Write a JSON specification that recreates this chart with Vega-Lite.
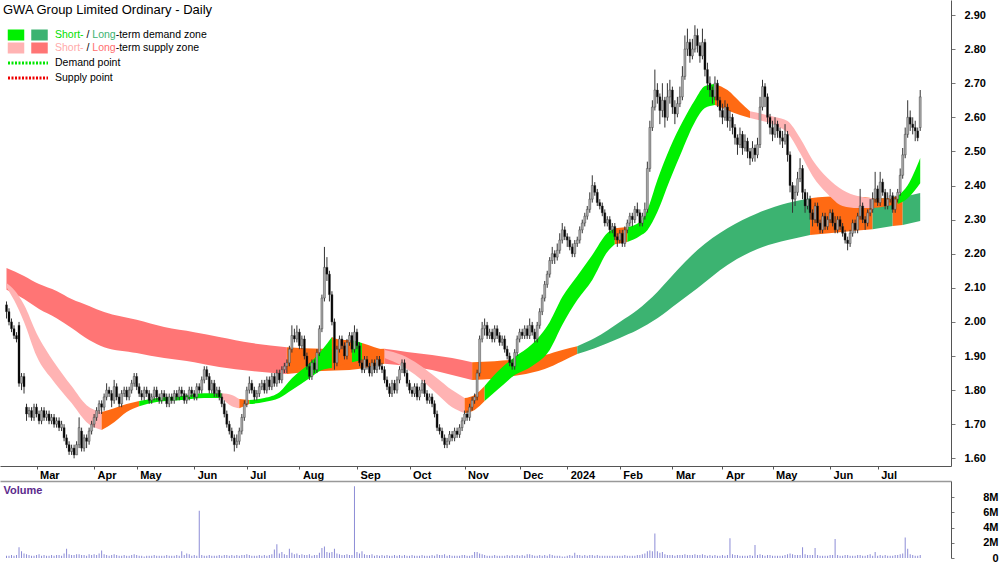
{
"$schema":"https://vega.github.io/schema/vega-lite/v6.json",
"width":951,"height":562,
"autosize":{"type":"none"},
"padding":{"left":0,"top":0,"right":49,"bottom":0},
"background":"#ffffff",
"title":{"text":"GWA Group Limited Ordinary - Daily","anchor":"start","frame":"group","offset":-30,"baseline":"bottom","dx":3,"fontSize":13,"fontWeight":"normal","font":"Liberation Sans","color":"#000000"},
"config":{"view":{"stroke":null},"font":"Liberation Sans","axis":{"labelFont":"Liberation Sans","titleFont":"Liberation Sans"},"legend":{"labelFont":"Liberation Sans"}},
"datasets":{
"px":[
{"i":0,"o":2.05,"h":2.06,"l":2.01,"c":2.03,"v":0.3},{"i":1,"o":2.03,"h":2.04,"l":1.99,"c":2.00,"v":0.3},{"i":2,"o":2.00,"h":2.01,"l":1.97,"c":1.98,"v":0.4},{"i":3,"o":1.98,"h":1.99,"l":1.95,"c":1.96,"v":0.3},{"i":4,"o":1.96,"h":1.97,"l":1.94,"c":1.95,"v":0.4},
{"i":5,"o":1.99,"h":2.00,"l":1.81,"c":1.82,"v":1.4},{"i":6,"o":1.82,"h":1.85,"l":1.80,"c":1.84,"v":0.9},{"i":7,"o":1.84,"h":1.85,"l":1.79,"c":1.81,"v":0.6},{"i":8,"o":1.75,"h":1.76,"l":1.71,"c":1.73,"v":0.5},{"i":9,"o":1.73,"h":1.75,"l":1.72,"c":1.74,"v":0.4},
{"i":10,"o":1.74,"h":1.75,"l":1.71,"c":1.72,"v":0.3},{"i":11,"o":1.72,"h":1.76,"l":1.71,"c":1.75,"v":0.3},{"i":12,"o":1.75,"h":1.76,"l":1.72,"c":1.73,"v":0.4},{"i":13,"o":1.73,"h":1.74,"l":1.70,"c":1.71,"v":0.5},{"i":14,"o":1.71,"h":1.75,"l":1.70,"c":1.74,"v":0.3},
{"i":15,"o":1.74,"h":1.75,"l":1.71,"c":1.72,"v":0.4},{"i":16,"o":1.72,"h":1.74,"l":1.71,"c":1.73,"v":0.3},{"i":17,"o":1.73,"h":1.74,"l":1.70,"c":1.71,"v":0.3},{"i":18,"o":1.71,"h":1.73,"l":1.70,"c":1.72,"v":0.4},{"i":19,"o":1.72,"h":1.73,"l":1.69,"c":1.70,"v":0.3},
{"i":20,"o":1.70,"h":1.72,"l":1.69,"c":1.71,"v":0.4},{"i":21,"o":1.71,"h":1.72,"l":1.68,"c":1.69,"v":0.4},{"i":22,"o":1.69,"h":1.71,"l":1.68,"c":1.70,"v":0.3},{"i":23,"o":1.69,"h":1.70,"l":1.65,"c":1.66,"v":0.6},{"i":24,"o":1.66,"h":1.67,"l":1.63,"c":1.64,"v":1.2},
{"i":25,"o":1.64,"h":1.65,"l":1.61,"c":1.62,"v":0.5},{"i":26,"o":1.62,"h":1.64,"l":1.61,"c":1.63,"v":0.4},{"i":27,"o":1.63,"h":1.64,"l":1.60,"c":1.61,"v":0.4},{"i":28,"o":1.61,"h":1.65,"l":1.61,"c":1.64,"v":0.5},{"i":29,"o":1.64,"h":1.72,"l":1.63,"c":1.69,"v":0.5},
{"i":30,"o":1.68,"h":1.69,"l":1.62,"c":1.63,"v":0.4},{"i":31,"o":1.63,"h":1.67,"l":1.62,"c":1.66,"v":0.4},{"i":32,"o":1.66,"h":1.67,"l":1.63,"c":1.65,"v":0.3},{"i":33,"o":1.65,"h":1.69,"l":1.64,"c":1.68,"v":0.5},{"i":34,"o":1.68,"h":1.71,"l":1.67,"c":1.70,"v":0.4},
{"i":35,"o":1.70,"h":1.73,"l":1.69,"c":1.72,"v":0.5},{"i":36,"o":1.72,"h":1.75,"l":1.71,"c":1.74,"v":0.4},{"i":37,"o":1.74,"h":1.77,"l":1.73,"c":1.76,"v":0.6},{"i":38,"o":1.76,"h":1.77,"l":1.73,"c":1.75,"v":1.0},{"i":39,"o":1.75,"h":1.79,"l":1.74,"c":1.78,"v":0.5},
{"i":40,"o":1.78,"h":1.82,"l":1.77,"c":1.80,"v":0.4},{"i":41,"o":1.80,"h":1.81,"l":1.78,"c":1.79,"v":0.3},{"i":42,"o":1.79,"h":1.80,"l":1.75,"c":1.77,"v":0.4},{"i":43,"o":1.77,"h":1.83,"l":1.76,"c":1.81,"v":0.5},{"i":44,"o":1.81,"h":1.82,"l":1.77,"c":1.78,"v":0.4},
{"i":45,"o":1.78,"h":1.79,"l":1.75,"c":1.76,"v":0.3},{"i":46,"o":1.76,"h":1.80,"l":1.75,"c":1.79,"v":0.3},{"i":47,"o":1.79,"h":1.81,"l":1.78,"c":1.80,"v":0.4},{"i":48,"o":1.80,"h":1.81,"l":1.77,"c":1.78,"v":0.3},{"i":49,"o":1.78,"h":1.81,"l":1.77,"c":1.80,"v":0.3},
{"i":50,"o":1.80,"h":1.83,"l":1.79,"c":1.82,"v":0.4},{"i":51,"o":1.82,"h":1.85,"l":1.81,"c":1.84,"v":0.5},{"i":52,"o":1.84,"h":1.85,"l":1.80,"c":1.81,"v":0.4},{"i":53,"o":1.81,"h":1.82,"l":1.78,"c":1.79,"v":0.3},{"i":54,"o":1.79,"h":1.80,"l":1.77,"c":1.78,"v":0.3},
{"i":55,"o":1.78,"h":1.81,"l":1.77,"c":1.80,"v":0.2},{"i":56,"o":1.80,"h":1.81,"l":1.78,"c":1.79,"v":0.3},{"i":57,"o":1.79,"h":1.80,"l":1.76,"c":1.77,"v":0.3},{"i":58,"o":1.77,"h":1.79,"l":1.76,"c":1.78,"v":0.3},{"i":59,"o":1.78,"h":1.81,"l":1.77,"c":1.80,"v":0.4},
{"i":60,"o":1.80,"h":1.81,"l":1.77,"c":1.78,"v":0.3},{"i":61,"o":1.78,"h":1.79,"l":1.76,"c":1.77,"v":0.3},{"i":62,"o":1.77,"h":1.80,"l":1.76,"c":1.79,"v":0.3},{"i":63,"o":1.79,"h":1.80,"l":1.77,"c":1.78,"v":0.3},{"i":64,"o":1.78,"h":1.79,"l":1.75,"c":1.76,"v":0.4},
{"i":65,"o":1.76,"h":1.79,"l":1.75,"c":1.78,"v":0.3},{"i":66,"o":1.78,"h":1.79,"l":1.76,"c":1.77,"v":0.3},{"i":67,"o":1.77,"h":1.80,"l":1.76,"c":1.79,"v":0.3},{"i":68,"o":1.79,"h":1.80,"l":1.77,"c":1.78,"v":0.4},{"i":69,"o":1.78,"h":1.81,"l":1.77,"c":1.80,"v":0.3},
{"i":70,"o":1.80,"h":1.81,"l":1.78,"c":1.79,"v":0.9},{"i":71,"o":1.79,"h":1.80,"l":1.76,"c":1.77,"v":0.4},{"i":72,"o":1.77,"h":1.79,"l":1.76,"c":1.78,"v":0.6},{"i":73,"o":1.78,"h":1.81,"l":1.77,"c":1.80,"v":0.5},{"i":74,"o":1.80,"h":1.81,"l":1.78,"c":1.79,"v":0.3},
{"i":75,"o":1.79,"h":1.80,"l":1.77,"c":1.78,"v":0.4},{"i":76,"o":1.78,"h":1.82,"l":1.77,"c":1.81,"v":0.3},{"i":77,"o":1.81,"h":1.82,"l":1.79,"c":1.80,"v":6.2},{"i":78,"o":1.80,"h":1.84,"l":1.79,"c":1.83,"v":0.4},{"i":79,"o":1.83,"h":1.87,"l":1.82,"c":1.86,"v":0.3},
{"i":80,"o":1.86,"h":1.87,"l":1.83,"c":1.84,"v":0.3},{"i":81,"o":1.84,"h":1.85,"l":1.79,"c":1.80,"v":0.4},{"i":82,"o":1.80,"h":1.83,"l":1.79,"c":1.82,"v":0.3},{"i":83,"o":1.82,"h":1.83,"l":1.78,"c":1.79,"v":0.3},{"i":84,"o":1.79,"h":1.81,"l":1.78,"c":1.80,"v":0.3},
{"i":85,"o":1.80,"h":1.81,"l":1.77,"c":1.78,"v":0.4},{"i":86,"o":1.78,"h":1.79,"l":1.75,"c":1.76,"v":0.3},{"i":87,"o":1.76,"h":1.77,"l":1.72,"c":1.73,"v":0.4},{"i":88,"o":1.73,"h":1.74,"l":1.69,"c":1.70,"v":0.4},{"i":89,"o":1.70,"h":1.71,"l":1.67,"c":1.68,"v":0.3},
{"i":90,"o":1.68,"h":1.69,"l":1.65,"c":1.66,"v":0.4},{"i":91,"o":1.66,"h":1.67,"l":1.62,"c":1.64,"v":0.3},{"i":92,"o":1.64,"h":1.67,"l":1.63,"c":1.65,"v":0.4},{"i":93,"o":1.65,"h":1.69,"l":1.64,"c":1.68,"v":0.3},{"i":94,"o":1.68,"h":1.73,"l":1.67,"c":1.72,"v":0.4},
{"i":95,"o":1.72,"h":1.77,"l":1.71,"c":1.76,"v":0.4},{"i":96,"o":1.76,"h":1.81,"l":1.75,"c":1.80,"v":0.5},{"i":97,"o":1.80,"h":1.84,"l":1.79,"c":1.82,"v":0.4},{"i":98,"o":1.82,"h":1.83,"l":1.79,"c":1.80,"v":0.3},{"i":99,"o":1.80,"h":1.81,"l":1.77,"c":1.78,"v":0.3},
{"i":100,"o":1.78,"h":1.80,"l":1.77,"c":1.79,"v":0.3},{"i":101,"o":1.79,"h":1.82,"l":1.78,"c":1.81,"v":0.4},{"i":102,"o":1.81,"h":1.83,"l":1.80,"c":1.82,"v":0.3},{"i":103,"o":1.82,"h":1.83,"l":1.79,"c":1.80,"v":0.4},{"i":104,"o":1.80,"h":1.84,"l":1.79,"c":1.83,"v":0.3},
{"i":105,"o":1.83,"h":1.84,"l":1.80,"c":1.81,"v":0.4},{"i":106,"o":1.81,"h":1.85,"l":1.80,"c":1.84,"v":0.5},{"i":107,"o":1.84,"h":1.85,"l":1.81,"c":1.82,"v":1.1},{"i":108,"o":1.82,"h":1.86,"l":1.81,"c":1.85,"v":1.8},{"i":109,"o":1.85,"h":1.86,"l":1.82,"c":1.83,"v":0.6},
{"i":110,"o":1.83,"h":1.87,"l":1.82,"c":1.86,"v":0.8},{"i":111,"o":1.86,"h":1.88,"l":1.85,"c":1.87,"v":0.5},{"i":112,"o":1.87,"h":1.89,"l":1.85,"c":1.88,"v":0.4},{"i":113,"o":1.88,"h":1.93,"l":1.87,"c":1.92,"v":1.2},{"i":114,"o":1.92,"h":1.99,"l":1.91,"c":1.96,"v":0.7},
{"i":115,"o":1.96,"h":1.98,"l":1.94,"c":1.95,"v":0.5},{"i":116,"o":1.95,"h":1.99,"l":1.94,"c":1.97,"v":0.6},{"i":117,"o":1.97,"h":1.98,"l":1.92,"c":1.93,"v":0.4},{"i":118,"o":1.93,"h":1.96,"l":1.92,"c":1.95,"v":0.5},{"i":119,"o":1.95,"h":1.96,"l":1.89,"c":1.90,"v":0.4},
{"i":120,"o":1.90,"h":1.91,"l":1.86,"c":1.87,"v":0.4},{"i":121,"o":1.87,"h":1.88,"l":1.83,"c":1.84,"v":0.5},{"i":122,"o":1.84,"h":1.89,"l":1.83,"c":1.88,"v":0.3},{"i":123,"o":1.88,"h":1.89,"l":1.85,"c":1.86,"v":0.4},{"i":124,"o":1.86,"h":1.92,"l":1.85,"c":1.91,"v":0.4},
{"i":125,"o":1.91,"h":1.99,"l":1.90,"c":1.98,"v":0.7},{"i":126,"o":1.98,"h":2.08,"l":1.97,"c":2.07,"v":1.3},{"i":127,"o":2.07,"h":2.22,"l":2.06,"c":2.16,"v":1.5},{"i":128,"o":2.16,"h":2.19,"l":2.12,"c":2.14,"v":0.8},{"i":129,"o":2.14,"h":2.15,"l":2.06,"c":2.08,"v":0.7},
{"i":130,"o":2.08,"h":2.09,"l":1.99,"c":2.00,"v":0.8},{"i":131,"o":2.00,"h":2.01,"l":1.86,"c":1.88,"v":1.2},{"i":132,"o":1.88,"h":1.93,"l":1.87,"c":1.92,"v":0.6},{"i":133,"o":1.92,"h":1.96,"l":1.91,"c":1.95,"v":0.5},{"i":134,"o":1.95,"h":1.96,"l":1.92,"c":1.93,"v":0.4},
{"i":135,"o":1.93,"h":1.94,"l":1.89,"c":1.90,"v":0.4},{"i":136,"o":1.90,"h":1.95,"l":1.89,"c":1.94,"v":0.5},{"i":137,"o":1.94,"h":1.97,"l":1.93,"c":1.96,"v":0.4},{"i":138,"o":1.96,"h":1.97,"l":1.91,"c":1.92,"v":0.4},{"i":139,"o":1.92,"h":1.99,"l":1.91,"c":1.97,"v":9.4},
{"i":140,"o":1.97,"h":1.98,"l":1.92,"c":1.93,"v":0.8},{"i":141,"o":1.93,"h":1.94,"l":1.87,"c":1.88,"v":0.6},{"i":142,"o":1.88,"h":1.89,"l":1.85,"c":1.86,"v":0.9},{"i":143,"o":1.86,"h":1.90,"l":1.85,"c":1.89,"v":0.5},{"i":144,"o":1.89,"h":1.90,"l":1.86,"c":1.87,"v":0.4},
{"i":145,"o":1.87,"h":1.88,"l":1.84,"c":1.85,"v":0.4},{"i":146,"o":1.85,"h":1.89,"l":1.84,"c":1.88,"v":0.5},{"i":147,"o":1.88,"h":1.89,"l":1.85,"c":1.86,"v":0.3},{"i":148,"o":1.86,"h":1.90,"l":1.85,"c":1.89,"v":0.4},{"i":149,"o":1.89,"h":1.90,"l":1.86,"c":1.87,"v":0.3},
{"i":150,"o":1.87,"h":1.88,"l":1.85,"c":1.86,"v":0.4},{"i":151,"o":1.86,"h":1.87,"l":1.82,"c":1.83,"v":0.3},{"i":152,"o":1.83,"h":1.84,"l":1.80,"c":1.81,"v":0.4},{"i":153,"o":1.81,"h":1.82,"l":1.78,"c":1.79,"v":0.3},{"i":154,"o":1.79,"h":1.83,"l":1.78,"c":1.82,"v":0.3},
{"i":155,"o":1.82,"h":1.83,"l":1.79,"c":1.80,"v":0.4},{"i":156,"o":1.80,"h":1.84,"l":1.79,"c":1.83,"v":0.3},{"i":157,"o":1.83,"h":1.87,"l":1.82,"c":1.86,"v":0.4},{"i":158,"o":1.86,"h":1.89,"l":1.85,"c":1.88,"v":0.3},{"i":159,"o":1.88,"h":1.89,"l":1.84,"c":1.85,"v":0.4},
{"i":160,"o":1.85,"h":1.86,"l":1.81,"c":1.82,"v":0.3},{"i":161,"o":1.82,"h":1.83,"l":1.79,"c":1.80,"v":0.3},{"i":162,"o":1.80,"h":1.81,"l":1.78,"c":1.79,"v":0.4},{"i":163,"o":1.79,"h":1.82,"l":1.78,"c":1.81,"v":0.3},{"i":164,"o":1.81,"h":1.82,"l":1.77,"c":1.78,"v":0.3},
{"i":165,"o":1.78,"h":1.81,"l":1.77,"c":1.80,"v":0.3},{"i":166,"o":1.80,"h":1.83,"l":1.79,"c":1.82,"v":0.4},{"i":167,"o":1.82,"h":1.83,"l":1.78,"c":1.79,"v":0.3},{"i":168,"o":1.79,"h":1.80,"l":1.76,"c":1.77,"v":0.3},{"i":169,"o":1.77,"h":1.79,"l":1.76,"c":1.78,"v":0.3},
{"i":170,"o":1.78,"h":1.79,"l":1.75,"c":1.76,"v":0.4},{"i":171,"o":1.76,"h":1.77,"l":1.72,"c":1.73,"v":0.3},{"i":172,"o":1.73,"h":1.74,"l":1.68,"c":1.69,"v":0.5},{"i":173,"o":1.69,"h":1.70,"l":1.67,"c":1.68,"v":0.4},{"i":174,"o":1.68,"h":1.69,"l":1.65,"c":1.66,"v":0.4},
{"i":175,"o":1.66,"h":1.67,"l":1.63,"c":1.64,"v":0.5},{"i":176,"o":1.64,"h":1.66,"l":1.63,"c":1.65,"v":0.3},{"i":177,"o":1.65,"h":1.68,"l":1.64,"c":1.67,"v":0.4},{"i":178,"o":1.67,"h":1.68,"l":1.65,"c":1.66,"v":0.3},{"i":179,"o":1.66,"h":1.69,"l":1.65,"c":1.68,"v":0.3},
{"i":180,"o":1.68,"h":1.69,"l":1.66,"c":1.67,"v":0.3},{"i":181,"o":1.67,"h":1.70,"l":1.66,"c":1.69,"v":0.3},{"i":182,"o":1.69,"h":1.72,"l":1.68,"c":1.71,"v":0.4},{"i":183,"o":1.71,"h":1.74,"l":1.70,"c":1.73,"v":0.4},{"i":184,"o":1.73,"h":1.74,"l":1.71,"c":1.72,"v":0.3},
{"i":185,"o":1.72,"h":1.76,"l":1.71,"c":1.75,"v":0.3},{"i":186,"o":1.75,"h":1.78,"l":1.74,"c":1.77,"v":0.4},{"i":187,"o":1.77,"h":1.79,"l":1.76,"c":1.78,"v":0.8},{"i":188,"o":1.78,"h":1.86,"l":1.77,"c":1.85,"v":0.8},{"i":189,"o":1.85,"h":1.96,"l":1.84,"c":1.95,"v":0.6},
{"i":190,"o":1.95,"h":2.00,"l":1.94,"c":1.98,"v":0.5},{"i":191,"o":1.98,"h":2.01,"l":1.96,"c":1.99,"v":0.4},{"i":192,"o":1.99,"h":2.00,"l":1.95,"c":1.96,"v":0.3},{"i":193,"o":1.96,"h":1.98,"l":1.95,"c":1.97,"v":0.3},{"i":194,"o":1.97,"h":1.98,"l":1.94,"c":1.95,"v":0.3},
{"i":195,"o":1.95,"h":1.99,"l":1.94,"c":1.98,"v":0.4},{"i":196,"o":1.98,"h":1.99,"l":1.95,"c":1.96,"v":0.3},{"i":197,"o":1.96,"h":1.97,"l":1.93,"c":1.94,"v":0.3},{"i":198,"o":1.94,"h":1.96,"l":1.93,"c":1.95,"v":0.3},{"i":199,"o":1.95,"h":1.96,"l":1.91,"c":1.92,"v":0.3},
{"i":200,"o":1.92,"h":1.93,"l":1.89,"c":1.90,"v":0.4},{"i":201,"o":1.90,"h":1.91,"l":1.87,"c":1.88,"v":0.3},{"i":202,"o":1.88,"h":1.89,"l":1.86,"c":1.87,"v":0.4},{"i":203,"o":1.87,"h":1.92,"l":1.86,"c":1.91,"v":0.3},{"i":204,"o":1.91,"h":1.96,"l":1.90,"c":1.95,"v":0.4},
{"i":205,"o":1.95,"h":1.98,"l":1.94,"c":1.97,"v":0.3},{"i":206,"o":1.97,"h":1.98,"l":1.95,"c":1.96,"v":0.4},{"i":207,"o":1.96,"h":1.99,"l":1.95,"c":1.98,"v":0.3},{"i":208,"o":1.98,"h":1.99,"l":1.95,"c":1.96,"v":0.5},{"i":209,"o":1.96,"h":2.01,"l":1.95,"c":1.99,"v":0.5},
{"i":210,"o":1.99,"h":2.00,"l":1.96,"c":1.97,"v":0.4},{"i":211,"o":1.97,"h":1.98,"l":1.94,"c":1.95,"v":0.3},{"i":212,"o":1.95,"h":2.00,"l":1.94,"c":1.99,"v":0.3},{"i":213,"o":1.99,"h":2.04,"l":1.98,"c":2.03,"v":0.4},{"i":214,"o":2.03,"h":2.08,"l":2.02,"c":2.07,"v":0.3},
{"i":215,"o":2.07,"h":2.12,"l":2.06,"c":2.11,"v":0.4},{"i":216,"o":2.11,"h":2.15,"l":2.10,"c":2.14,"v":0.3},{"i":217,"o":2.14,"h":2.19,"l":2.13,"c":2.18,"v":0.5},{"i":218,"o":2.18,"h":2.22,"l":2.17,"c":2.20,"v":0.4},{"i":219,"o":2.20,"h":2.21,"l":2.17,"c":2.19,"v":0.3},
{"i":220,"o":2.19,"h":2.23,"l":2.18,"c":2.21,"v":0.3},{"i":221,"o":2.21,"h":2.26,"l":2.20,"c":2.24,"v":0.3},{"i":222,"o":2.24,"h":2.29,"l":2.23,"c":2.27,"v":0.2},{"i":223,"o":2.27,"h":2.28,"l":2.24,"c":2.25,"v":0.2},{"i":224,"o":2.25,"h":2.26,"l":2.22,"c":2.24,"v":0.3},
{"i":225,"o":2.24,"h":2.25,"l":2.21,"c":2.22,"v":0.4},{"i":226,"o":2.22,"h":2.23,"l":2.19,"c":2.20,"v":0.3},{"i":227,"o":2.20,"h":2.24,"l":2.19,"c":2.23,"v":0.7},{"i":228,"o":2.23,"h":2.25,"l":2.22,"c":2.24,"v":0.4},{"i":229,"o":2.24,"h":2.28,"l":2.23,"c":2.27,"v":0.4},
{"i":230,"o":2.27,"h":2.30,"l":2.26,"c":2.29,"v":0.3},{"i":231,"o":2.29,"h":2.32,"l":2.28,"c":2.31,"v":0.4},{"i":232,"o":2.31,"h":2.34,"l":2.30,"c":2.33,"v":0.3},{"i":233,"o":2.33,"h":2.38,"l":2.32,"c":2.36,"v":0.4},{"i":234,"o":2.36,"h":2.43,"l":2.35,"c":2.40,"v":0.4},
{"i":235,"o":2.40,"h":2.41,"l":2.37,"c":2.38,"v":0.3},{"i":236,"o":2.38,"h":2.39,"l":2.34,"c":2.35,"v":0.4},{"i":237,"o":2.35,"h":2.36,"l":2.33,"c":2.34,"v":0.3},{"i":238,"o":2.34,"h":2.35,"l":2.31,"c":2.32,"v":0.3},{"i":239,"o":2.32,"h":2.33,"l":2.28,"c":2.29,"v":0.3},
{"i":240,"o":2.29,"h":2.31,"l":2.28,"c":2.30,"v":0.3},{"i":241,"o":2.30,"h":2.31,"l":2.26,"c":2.27,"v":0.3},{"i":242,"o":2.27,"h":2.29,"l":2.26,"c":2.28,"v":0.3},{"i":243,"o":2.28,"h":2.29,"l":2.24,"c":2.25,"v":0.3},{"i":244,"o":2.25,"h":2.26,"l":2.22,"c":2.24,"v":0.3},
{"i":245,"o":2.24,"h":2.27,"l":2.23,"c":2.26,"v":0.3},{"i":246,"o":2.26,"h":2.27,"l":2.22,"c":2.23,"v":0.3},{"i":247,"o":2.23,"h":2.28,"l":2.22,"c":2.27,"v":0.4},{"i":248,"o":2.27,"h":2.30,"l":2.26,"c":2.29,"v":0.3},{"i":249,"o":2.29,"h":2.32,"l":2.28,"c":2.31,"v":0.3},
{"i":250,"o":2.31,"h":2.32,"l":2.28,"c":2.30,"v":0.3},{"i":251,"o":2.30,"h":2.34,"l":2.29,"c":2.33,"v":0.3},{"i":252,"o":2.33,"h":2.35,"l":2.31,"c":2.32,"v":0.4},{"i":253,"o":2.32,"h":2.33,"l":2.28,"c":2.29,"v":0.4},{"i":254,"o":2.29,"h":2.32,"l":2.28,"c":2.31,"v":0.5},
{"i":255,"o":2.31,"h":2.35,"l":2.30,"c":2.33,"v":0.6},{"i":256,"o":2.33,"h":2.47,"l":2.32,"c":2.45,"v":0.9},{"i":257,"o":2.45,"h":2.59,"l":2.44,"c":2.57,"v":1.0},{"i":258,"o":2.57,"h":2.65,"l":2.56,"c":2.63,"v":0.9},{"i":259,"o":2.63,"h":2.74,"l":2.62,"c":2.68,"v":3.2},
{"i":260,"o":2.68,"h":2.70,"l":2.64,"c":2.66,"v":0.9},{"i":261,"o":2.66,"h":2.67,"l":2.58,"c":2.62,"v":0.7},{"i":262,"o":2.62,"h":2.70,"l":2.60,"c":2.65,"v":0.8},{"i":263,"o":2.65,"h":2.66,"l":2.57,"c":2.60,"v":0.5},{"i":264,"o":2.60,"h":2.70,"l":2.59,"c":2.66,"v":0.4},
{"i":265,"o":2.66,"h":2.71,"l":2.64,"c":2.68,"v":0.4},{"i":266,"o":2.68,"h":2.69,"l":2.61,"c":2.63,"v":0.4},{"i":267,"o":2.63,"h":2.65,"l":2.58,"c":2.61,"v":0.3},{"i":268,"o":2.61,"h":2.66,"l":2.60,"c":2.64,"v":0.4},{"i":269,"o":2.64,"h":2.69,"l":2.63,"c":2.66,"v":0.4},
{"i":270,"o":2.66,"h":2.75,"l":2.65,"c":2.72,"v":0.4},{"i":271,"o":2.72,"h":2.84,"l":2.71,"c":2.80,"v":0.5},{"i":272,"o":2.80,"h":2.86,"l":2.78,"c":2.82,"v":0.4},{"i":273,"o":2.82,"h":2.83,"l":2.76,"c":2.78,"v":0.4},{"i":274,"o":2.78,"h":2.83,"l":2.77,"c":2.80,"v":0.4},
{"i":275,"o":2.80,"h":2.87,"l":2.79,"c":2.84,"v":0.5},{"i":276,"o":2.84,"h":2.86,"l":2.79,"c":2.81,"v":0.4},{"i":277,"o":2.81,"h":2.82,"l":2.76,"c":2.78,"v":0.4},{"i":278,"o":2.78,"h":2.86,"l":2.77,"c":2.82,"v":0.5},{"i":279,"o":2.82,"h":2.83,"l":2.72,"c":2.74,"v":0.4},
{"i":280,"o":2.74,"h":2.76,"l":2.68,"c":2.70,"v":0.3},{"i":281,"o":2.70,"h":2.72,"l":2.66,"c":2.68,"v":0.4},{"i":282,"o":2.68,"h":2.69,"l":2.64,"c":2.66,"v":0.3},{"i":283,"o":2.66,"h":2.72,"l":2.65,"c":2.70,"v":0.4},{"i":284,"o":2.70,"h":2.71,"l":2.63,"c":2.65,"v":0.3},
{"i":285,"o":2.65,"h":2.66,"l":2.60,"c":2.62,"v":0.3},{"i":286,"o":2.62,"h":2.64,"l":2.58,"c":2.60,"v":0.4},{"i":287,"o":2.60,"h":2.65,"l":2.59,"c":2.63,"v":0.3},{"i":288,"o":2.63,"h":2.64,"l":2.57,"c":2.59,"v":0.4},{"i":289,"o":2.59,"h":2.62,"l":2.56,"c":2.60,"v":2.6},
{"i":290,"o":2.60,"h":2.61,"l":2.55,"c":2.57,"v":0.5},{"i":291,"o":2.57,"h":2.58,"l":2.52,"c":2.54,"v":0.4},{"i":292,"o":2.54,"h":2.55,"l":2.49,"c":2.52,"v":0.4},{"i":293,"o":2.52,"h":2.57,"l":2.51,"c":2.55,"v":0.3},{"i":294,"o":2.55,"h":2.56,"l":2.49,"c":2.51,"v":0.3},
{"i":295,"o":2.51,"h":2.55,"l":2.50,"c":2.53,"v":0.3},{"i":296,"o":2.53,"h":2.54,"l":2.48,"c":2.50,"v":0.3},{"i":297,"o":2.50,"h":2.51,"l":2.46,"c":2.48,"v":0.4},{"i":298,"o":2.48,"h":2.53,"l":2.47,"c":2.51,"v":0.3},{"i":299,"o":2.51,"h":2.52,"l":2.47,"c":2.49,"v":1.7},
{"i":300,"o":2.49,"h":2.54,"l":2.48,"c":2.52,"v":0.4},{"i":301,"o":2.52,"h":2.66,"l":2.51,"c":2.63,"v":0.5},{"i":302,"o":2.63,"h":2.71,"l":2.62,"c":2.69,"v":0.4},{"i":303,"o":2.69,"h":2.70,"l":2.63,"c":2.66,"v":0.3},{"i":304,"o":2.66,"h":2.67,"l":2.58,"c":2.60,"v":0.4},
{"i":305,"o":2.60,"h":2.61,"l":2.55,"c":2.57,"v":0.4},{"i":306,"o":2.57,"h":2.59,"l":2.53,"c":2.55,"v":0.3},{"i":307,"o":2.55,"h":2.60,"l":2.54,"c":2.58,"v":0.3},{"i":308,"o":2.58,"h":2.59,"l":2.54,"c":2.56,"v":0.3},{"i":309,"o":2.56,"h":2.57,"l":2.52,"c":2.54,"v":0.3},
{"i":310,"o":2.54,"h":2.56,"l":2.51,"c":2.53,"v":0.3},{"i":311,"o":2.53,"h":2.58,"l":2.52,"c":2.55,"v":0.4},{"i":312,"o":2.55,"h":2.56,"l":2.47,"c":2.49,"v":0.5},{"i":313,"o":2.49,"h":2.50,"l":2.38,"c":2.40,"v":0.6},{"i":314,"o":2.40,"h":2.41,"l":2.32,"c":2.36,"v":0.5},
{"i":315,"o":2.36,"h":2.40,"l":2.34,"c":2.38,"v":0.4},{"i":316,"o":2.38,"h":2.44,"l":2.37,"c":2.42,"v":0.4},{"i":317,"o":2.42,"h":2.48,"l":2.41,"c":2.45,"v":0.4},{"i":318,"o":2.45,"h":2.46,"l":2.36,"c":2.38,"v":1.4},{"i":319,"o":2.38,"h":2.39,"l":2.32,"c":2.34,"v":0.5},
{"i":320,"o":2.34,"h":2.38,"l":2.33,"c":2.36,"v":0.4},{"i":321,"o":2.36,"h":2.37,"l":2.30,"c":2.32,"v":0.4},{"i":322,"o":2.32,"h":2.33,"l":2.28,"c":2.30,"v":0.4},{"i":323,"o":2.30,"h":2.35,"l":2.29,"c":2.34,"v":1.3},{"i":324,"o":2.34,"h":2.35,"l":2.28,"c":2.29,"v":0.4},
{"i":325,"o":2.29,"h":2.30,"l":2.26,"c":2.27,"v":0.3},{"i":326,"o":2.27,"h":2.32,"l":2.26,"c":2.31,"v":0.3},{"i":327,"o":2.31,"h":2.32,"l":2.27,"c":2.28,"v":0.3},{"i":328,"o":2.28,"h":2.31,"l":2.27,"c":2.30,"v":0.3},{"i":329,"o":2.30,"h":2.33,"l":2.29,"c":2.32,"v":0.4},
{"i":330,"o":2.32,"h":2.33,"l":2.28,"c":2.29,"v":0.4},{"i":331,"o":2.29,"h":2.31,"l":2.26,"c":2.27,"v":2.5},{"i":332,"o":2.27,"h":2.31,"l":2.26,"c":2.30,"v":0.4},{"i":333,"o":2.30,"h":2.31,"l":2.27,"c":2.28,"v":0.3},{"i":334,"o":2.28,"h":2.29,"l":2.25,"c":2.26,"v":0.3},
{"i":335,"o":2.26,"h":2.27,"l":2.23,"c":2.24,"v":0.4},{"i":336,"o":2.24,"h":2.25,"l":2.21,"c":2.23,"v":0.4},{"i":337,"o":2.23,"h":2.27,"l":2.22,"c":2.26,"v":0.3},{"i":338,"o":2.26,"h":2.30,"l":2.25,"c":2.29,"v":0.3},{"i":339,"o":2.29,"h":2.30,"l":2.26,"c":2.27,"v":0.3},
{"i":340,"o":2.27,"h":2.32,"l":2.26,"c":2.31,"v":0.4},{"i":341,"o":2.31,"h":2.39,"l":2.30,"c":2.34,"v":0.4},{"i":342,"o":2.34,"h":2.35,"l":2.29,"c":2.30,"v":0.3},{"i":343,"o":2.30,"h":2.31,"l":2.27,"c":2.29,"v":0.3},{"i":344,"o":2.29,"h":2.33,"l":2.28,"c":2.32,"v":0.4},
{"i":345,"o":2.32,"h":2.36,"l":2.31,"c":2.33,"v":0.5},{"i":346,"o":2.33,"h":2.38,"l":2.32,"c":2.36,"v":0.3},{"i":347,"o":2.36,"h":2.44,"l":2.35,"c":2.39,"v":0.8},{"i":348,"o":2.39,"h":2.40,"l":2.34,"c":2.35,"v":0.3},{"i":349,"o":2.35,"h":2.44,"l":2.34,"c":2.41,"v":0.4},
{"i":350,"o":2.41,"h":2.42,"l":2.37,"c":2.38,"v":0.3},{"i":351,"o":2.38,"h":2.39,"l":2.33,"c":2.34,"v":0.4},{"i":352,"o":2.34,"h":2.38,"l":2.33,"c":2.36,"v":0.3},{"i":353,"o":2.36,"h":2.39,"l":2.35,"c":2.37,"v":0.3},{"i":354,"o":2.37,"h":2.38,"l":2.32,"c":2.33,"v":0.3},
{"i":355,"o":2.33,"h":2.37,"l":2.32,"c":2.36,"v":0.4},{"i":356,"o":2.36,"h":2.39,"l":2.35,"c":2.38,"v":0.4},{"i":357,"o":2.38,"h":2.45,"l":2.37,"c":2.43,"v":0.5},{"i":358,"o":2.43,"h":2.51,"l":2.42,"c":2.49,"v":0.6},{"i":359,"o":2.49,"h":2.57,"l":2.48,"c":2.55,"v":2.7},
{"i":360,"o":2.55,"h":2.65,"l":2.54,"c":2.60,"v":1.2},{"i":361,"o":2.60,"h":2.62,"l":2.56,"c":2.58,"v":0.5},{"i":362,"o":2.58,"h":2.60,"l":2.55,"c":2.57,"v":0.4},{"i":363,"o":2.57,"h":2.59,"l":2.53,"c":2.56,"v":0.3},{"i":364,"o":2.56,"h":2.57,"l":2.53,"c":2.54,"v":0.3},
{"i":365,"o":2.57,"h":2.68,"l":2.56,"c":2.66,"v":0.4}
],
"lt":[
{"i":0,"hi":2.158,"lo":2.094,"k":"L1","z":"Lsup"},{"i":7,"hi":2.135,"lo":2.067,"k":"L1","z":"Lsup"},{"i":13,"hi":2.111,"lo":2.038,"k":"L1","z":"Lsup"},{"i":20,"hi":2.091,"lo":2.011,"k":"L1","z":"Lsup"},{"i":26,"hi":2.067,"lo":1.982,"k":"L1","z":"Lsup"},{"i":33,"hi":2.047,"lo":1.947,"k":"L1","z":"Lsup"},{"i":39,"hi":2.029,"lo":1.926,"k":"L1","z":"Lsup"},{"i":52,"hi":2.006,"lo":1.909,"k":"L1","z":"Lsup"},{"i":63,"hi":1.985,"lo":1.894,"k":"L1","z":"Lsup"},{"i":75,"hi":1.970,"lo":1.882,"k":"L1","z":"Lsup"},{"i":85,"hi":1.956,"lo":1.868,"k":"L1","z":"Lsup"},{"i":98,"hi":1.938,"lo":1.856,"k":"L1","z":"Lsup"},{"i":112,"hi":1.926,"lo":1.847,"k":"L1","z":"Lsup"},
{"i":112,"hi":1.926,"lo":1.847,"k":"L2","z":"Lmix"},{"i":126,"hi":1.921,"lo":1.856,"k":"L2","z":"Lmix"},{"i":137,"hi":1.918,"lo":1.859,"k":"L2","z":"Lmix"},{"i":151,"hi":1.921,"lo":1.877,"k":"L2","z":"Lmix"},
{"i":151,"hi":1.921,"lo":1.877,"k":"L3","z":"Lsup"},{"i":160,"hi":1.912,"lo":1.871,"k":"L3","z":"Lsup"},{"i":170,"hi":1.903,"lo":1.859,"k":"L3","z":"Lsup"},{"i":178,"hi":1.894,"lo":1.844,"k":"L3","z":"Lsup"},{"i":186,"hi":1.882,"lo":1.830,"k":"L3","z":"Lsup"},
{"i":186,"hi":1.882,"lo":1.830,"k":"L4","z":"Lmix"},{"i":195,"hi":1.885,"lo":1.833,"k":"L4","z":"Lmix"},{"i":205,"hi":1.891,"lo":1.844,"k":"L4","z":"Lmix"},{"i":215,"hi":1.903,"lo":1.862,"k":"L4","z":"Lmix"},{"i":222,"hi":1.918,"lo":1.885,"k":"L4","z":"Lmix"},{"i":228,"hi":1.929,"lo":1.906,"k":"L4","z":"Lmix"},
{"i":228,"hi":1.929,"lo":1.906,"k":"L5","z":"Ldem"},{"i":235,"hi":1.953,"lo":1.923,"k":"L5","z":"Ldem"},{"i":245,"hi":2.000,"lo":1.953,"k":"L5","z":"Ldem"},{"i":252,"hi":2.035,"lo":1.976,"k":"L5","z":"Ldem"},{"i":260,"hi":2.088,"lo":2.011,"k":"L5","z":"Ldem"},{"i":268,"hi":2.152,"lo":2.055,"k":"L5","z":"Ldem"},{"i":276,"hi":2.211,"lo":2.099,"k":"L5","z":"Ldem"},{"i":288,"hi":2.275,"lo":2.167,"k":"L5","z":"Ldem"},{"i":300,"hi":2.319,"lo":2.214,"k":"L5","z":"Ldem"},{"i":312,"hi":2.349,"lo":2.240,"k":"L5","z":"Ldem"},{"i":321,"hi":2.363,"lo":2.255,"k":"L5","z":"Ldem"},
{"i":321,"hi":2.363,"lo":2.255,"k":"L6","z":"Lmix"},{"i":334,"hi":2.369,"lo":2.264,"k":"L6","z":"Lmix"},{"i":346,"hi":2.363,"lo":2.272,"k":"L6","z":"Lmix"},
{"i":346,"hi":2.363,"lo":2.272,"k":"L7","z":"Ldem"},{"i":354,"hi":2.363,"lo":2.281,"k":"L7","z":"Ldem"},
{"i":354,"hi":2.363,"lo":2.281,"k":"L8","z":"Lmix"},{"i":358,"hi":2.366,"lo":2.284,"k":"L8","z":"Lmix"},
{"i":358,"hi":2.366,"lo":2.284,"k":"L9","z":"Ldem"},{"i":365,"hi":2.378,"lo":2.296,"k":"L9","z":"Ldem"}
],
"st":[
{"i":0,"hi":2.114,"lo":2.102,"k":"S01","z":"Ssup"},{"i":3,"hi":2.094,"lo":2.064,"k":"S01","z":"Ssup"},{"i":7,"hi":2.050,"lo":2.000,"k":"S01","z":"Ssup"},{"i":12,"hi":1.967,"lo":1.900,"k":"S01","z":"Ssup"},{"i":19,"hi":1.882,"lo":1.824,"k":"S01","z":"Ssup"},{"i":26,"hi":1.812,"lo":1.762,"k":"S01","z":"Ssup"},{"i":32,"hi":1.756,"lo":1.706,"k":"S01","z":"Ssup"},{"i":38,"hi":1.736,"lo":1.683,"k":"S01","z":"Ssup"},
{"i":38,"hi":1.736,"lo":1.683,"k":"S02","z":"Smix"},{"i":43,"hi":1.747,"lo":1.706,"k":"S02","z":"Smix"},{"i":48,"hi":1.759,"lo":1.736,"k":"S02","z":"Smix"},{"i":53,"hi":1.768,"lo":1.753,"k":"S02","z":"Smix"},
{"i":53,"hi":1.768,"lo":1.753,"k":"S03","z":"Sdem"},{"i":60,"hi":1.777,"lo":1.765,"k":"S03","z":"Sdem"},{"i":70,"hi":1.783,"lo":1.771,"k":"S03","z":"Sdem"},{"i":79,"hi":1.791,"lo":1.777,"k":"S03","z":"Sdem"},{"i":86,"hi":1.791,"lo":1.777,"k":"S03","z":"Sdem"},
{"i":86,"hi":1.791,"lo":1.777,"k":"S04","z":"Ssup"},{"i":90,"hi":1.786,"lo":1.753,"k":"S04","z":"Ssup"},{"i":93,"hi":1.774,"lo":1.747,"k":"S04","z":"Ssup"},
{"i":93,"hi":1.774,"lo":1.747,"k":"S05","z":"Smix"},{"i":97,"hi":1.771,"lo":1.759,"k":"S05","z":"Smix"},
{"i":97,"hi":1.771,"lo":1.759,"k":"S06","z":"Sdem"},{"i":103,"hi":1.777,"lo":1.765,"k":"S06","z":"Sdem"},{"i":109,"hi":1.794,"lo":1.777,"k":"S06","z":"Sdem"},{"i":114,"hi":1.835,"lo":1.800,"k":"S06","z":"Sdem"},{"i":121,"hi":1.879,"lo":1.835,"k":"S06","z":"Sdem"},{"i":126,"hi":1.918,"lo":1.859,"k":"S06","z":"Sdem"},{"i":130,"hi":1.956,"lo":1.865,"k":"S06","z":"Sdem"},
{"i":130,"hi":1.956,"lo":1.865,"k":"S07","z":"Smix"},{"i":134,"hi":1.947,"lo":1.874,"k":"S07","z":"Smix"},{"i":138,"hi":1.947,"lo":1.882,"k":"S07","z":"Smix"},
{"i":138,"hi":1.947,"lo":1.882,"k":"S08","z":"Sdem"},{"i":142,"hi":1.938,"lo":1.888,"k":"S08","z":"Sdem"},
{"i":142,"hi":1.938,"lo":1.888,"k":"S09","z":"Smix"},{"i":147,"hi":1.926,"lo":1.891,"k":"S09","z":"Smix"},{"i":151,"hi":1.918,"lo":1.894,"k":"S09","z":"Smix"},
{"i":151,"hi":1.918,"lo":1.894,"k":"S10","z":"Ssup"},{"i":158,"hi":1.903,"lo":1.871,"k":"S10","z":"Ssup"},{"i":165,"hi":1.874,"lo":1.835,"k":"S10","z":"Ssup"},{"i":172,"hi":1.835,"lo":1.789,"k":"S10","z":"Ssup"},{"i":178,"hi":1.800,"lo":1.750,"k":"S10","z":"Ssup"},{"i":183,"hi":1.777,"lo":1.733,"k":"S10","z":"Ssup"},
{"i":183,"hi":1.777,"lo":1.733,"k":"S11","z":"Smix"},{"i":187,"hi":1.786,"lo":1.742,"k":"S11","z":"Smix"},{"i":191,"hi":1.812,"lo":1.768,"k":"S11","z":"Smix"},
{"i":191,"hi":1.812,"lo":1.768,"k":"S12","z":"Sdem"},{"i":196,"hi":1.853,"lo":1.800,"k":"S12","z":"Sdem"},{"i":203,"hi":1.897,"lo":1.844,"k":"S12","z":"Sdem"},{"i":210,"hi":1.935,"lo":1.871,"k":"S12","z":"Sdem"},{"i":217,"hi":2.000,"lo":1.918,"k":"S12","z":"Sdem"},{"i":222,"hi":2.073,"lo":1.991,"k":"S12","z":"Sdem"},{"i":228,"hi":2.135,"lo":2.064,"k":"S12","z":"Sdem"},{"i":234,"hi":2.196,"lo":2.123,"k":"S12","z":"Sdem"},{"i":240,"hi":2.261,"lo":2.205,"k":"S12","z":"Sdem"},{"i":243,"hi":2.275,"lo":2.228,"k":"S12","z":"Sdem"},
{"i":243,"hi":2.275,"lo":2.228,"k":"S13","z":"Smix"},{"i":248,"hi":2.278,"lo":2.234,"k":"S13","z":"Smix"},
{"i":248,"hi":2.278,"lo":2.234,"k":"S14","z":"Sdem"},{"i":253,"hi":2.293,"lo":2.252,"k":"S14","z":"Sdem"},{"i":256,"hi":2.328,"lo":2.269,"k":"S14","z":"Sdem"},{"i":260,"hi":2.416,"lo":2.322,"k":"S14","z":"Sdem"},{"i":265,"hi":2.510,"lo":2.416,"k":"S14","z":"Sdem"},{"i":270,"hi":2.586,"lo":2.504,"k":"S14","z":"Sdem"},{"i":275,"hi":2.651,"lo":2.586,"k":"S14","z":"Sdem"},{"i":279,"hi":2.692,"lo":2.627,"k":"S14","z":"Sdem"},{"i":283,"hi":2.698,"lo":2.636,"k":"S14","z":"Sdem"},
{"i":283,"hi":2.698,"lo":2.636,"k":"S15","z":"Smix"},{"i":288,"hi":2.680,"lo":2.621,"k":"S15","z":"Smix"},{"i":293,"hi":2.645,"lo":2.607,"k":"S15","z":"Smix"},{"i":297,"hi":2.618,"lo":2.598,"k":"S15","z":"Smix"},
{"i":297,"hi":2.618,"lo":2.598,"k":"S16","z":"Ssup"},{"i":302,"hi":2.610,"lo":2.589,"k":"S16","z":"Ssup"},{"i":307,"hi":2.601,"lo":2.577,"k":"S16","z":"Ssup"},{"i":312,"hi":2.589,"lo":2.554,"k":"S16","z":"Ssup"},{"i":317,"hi":2.539,"lo":2.495,"k":"S16","z":"Ssup"},{"i":322,"hi":2.475,"lo":2.428,"k":"S16","z":"Ssup"},{"i":328,"hi":2.422,"lo":2.375,"k":"S16","z":"Ssup"},{"i":334,"hi":2.387,"lo":2.340,"k":"S16","z":"Ssup"},{"i":340,"hi":2.369,"lo":2.334,"k":"S16","z":"Ssup"},{"i":346,"hi":2.363,"lo":2.334,"k":"S16","z":"Ssup"},
{"i":346,"hi":2.363,"lo":2.334,"k":"S17","z":"Smix"},{"i":352,"hi":2.363,"lo":2.340,"k":"S17","z":"Smix"},{"i":356,"hi":2.369,"lo":2.346,"k":"S17","z":"Smix"},
{"i":356,"hi":2.369,"lo":2.346,"k":"S18","z":"Sdem"},{"i":360,"hi":2.401,"lo":2.363,"k":"S18","z":"Sdem"},{"i":365,"hi":2.481,"lo":2.407,"k":"S18","z":"Sdem"}
]
},
"layer":[
{
"encoding":{"x":{"field":"i","type":"quantitative","scale":{"domain":[-0.6,375.3],"nice":false,"zero":false},"axis":{"orient":"bottom","offset":-96,"values":[12,35,52,75,96,117,140,161,183,205,224,245,266,286,306,329,348],"labelExpr":"datum.value==12||datum.value==266?'Mar':datum.value==35||datum.value==286?'Apr':datum.value==52||datum.value==306?'May':datum.value==75||datum.value==329?'Jun':datum.value==96||datum.value==348?'Jul':datum.value==117?'Aug':datum.value==140?'Sep':datum.value==161?'Oct':datum.value==183?'Nov':datum.value==205?'Dec':datum.value==224?'2024':'Feb'","title":null,"grid":false,"domainColor":"#555555","tickColor":"#555555","tickSize":3,"labelAlign":"left","labelBaseline":"top","labelPadding":0,"labelOffset":3,"labelFontSize":11,"labelFontWeight":"bold","labelColor":"#000000","labelOverlap":false,"labelFlush":false}}},
"layer":[
{"data":{"name":"lt"},"mark":{"type":"area","interpolate":"monotone","orient":"vertical","opacity":1},
 "encoding":{
  "y":{"field":"lo","type":"quantitative","scale":{"domain":[1.5775,2.944],"range":[466,0],"nice":false,"zero":false},"axis":{"orient":"right","values":[1.6,1.7,1.8,1.9,2.0,2.1,2.2,2.3,2.4,2.5,2.6,2.7,2.8,2.9],"format":".2f","title":null,"grid":false,"domainColor":"#555555","tickColor":"#777777","tickSize":4,"labelPadding":9,"labelFontSize":11,"labelFontWeight":"bold","labelColor":"#000000","labelAlign":"left","labelBaseline":"middle"}},
  "y2":{"field":"hi"},
  "detail":{"field":"k","type":"nominal"},
  "fill":{"field":"z","type":"nominal","scale":{"domain":["Ldem","Lsup","Lmix"],"range":["#3cb371","#ff7575","#ff6a13"]},
   "legend":{"orient":"none","legendX":0,"legendY":29.5,"title":null,"padding":0,"values":["Ldem","Lsup"],"symbolType":"M-1.5,-1H1.5V1H-1.5Z","symbolSize":121,"symbolStrokeWidth":0,"symbolOffset":34,"labelOffset":47.3,"rowPadding":2,"labelFontSize":10.5,"labelExpr":"'Long'","labelColor":{"expr":"datum.value=='Ldem'?'#3cb371':'#ff6f6f'"}}}
 }},
{"data":{"name":"st"},"mark":{"type":"area","interpolate":"monotone","orient":"vertical","opacity":1},
 "encoding":{
  "y":{"field":"lo","type":"quantitative","scale":{"domain":[1.5775,2.944],"range":[466,0],"nice":false,"zero":false}},
  "y2":{"field":"hi"},
  "detail":{"field":"k","type":"nominal"},
  "fill":{"field":"z","type":"nominal","scale":{"domain":["Sdem","Ssup","Smix"],"range":["#00f000","#ffb3b3","#ff6a13"]},
   "legend":{"orient":"none","legendX":0,"legendY":29.5,"title":null,"padding":0,"values":["Sdem","Ssup"],"symbolType":"M-1.5,-1H1.5V1H-1.5Z","symbolSize":121,"symbolStrokeWidth":0,"symbolOffset":10.5,"labelOffset":33.5,"rowPadding":2,"labelFontSize":10.5,"labelExpr":"'Short-'","labelColor":{"expr":"datum.value=='Sdem'?'#00e000':'#ffaaaa'"}}}
 }},
{"data":{"name":"px"},"transform":[{"filter":"datum.i<0"}],"mark":{"type":"rule"},
 "encoding":{
  "y":{"field":"l","type":"quantitative","scale":{"domain":[1.5775,2.944],"range":[466,0],"nice":false,"zero":false}},
  "y2":{"field":"h"},
  "stroke":{"field":"k","type":"nominal","scale":{"domain":["Dp","Sp"],"range":["#00e600","#ee0000"]},
   "legend":{"orient":"none","legendX":0,"legendY":56.5,"title":null,"padding":0,"values":["Dp","Sp"],"symbolType":"M-4,0H4","symbolSize":100,"symbolStrokeWidth":3,"symbolDash":[2,1.5],"symbolOffset":21.5,"labelOffset":20.5,"rowPadding":2,"labelFontSize":10.5,"labelColor":"#000000","labelExpr":"datum.value=='Dp'?'Demand point':'Supply point'"}},
  "strokeDash":{"field":"z","type":"nominal","scale":{"domain":["a","b"],"range":[[1,0],[1,0]]},
   "legend":{"orient":"none","legendX":0,"legendY":29.5,"title":null,"padding":0,"values":["a","b"],"symbolType":"square","symbolSize":121,"symbolStrokeWidth":0,"symbolOpacity":0,"labelOffset":75.5,"rowPadding":2,"labelFontSize":10.5,"labelColor":"#000000","labelExpr":"datum.value=='a'?'/\u00a0\u00a0\u00a0\u00a0\u00a0\u00a0\u00a0\u00a0\u00a0-term demand zone':'/\u00a0\u00a0\u00a0\u00a0\u00a0\u00a0\u00a0\u00a0\u00a0-term supply zone'"}}
 }},
{"data":{"name":"px"},"mark":{"type":"rule","color":"#333333","strokeWidth":1},
 "encoding":{"y":{"field":"l","type":"quantitative","scale":{"domain":[1.5775,2.944],"range":[466,0],"nice":false,"zero":false}},"y2":{"field":"h"}}},
{"data":{"name":"px"},"mark":{"type":"bar","size":2,"orient":"vertical","stroke":"#333333","strokeWidth":0.4},
 "encoding":{"y":{"field":"o","type":"quantitative","scale":{"domain":[1.5775,2.944],"range":[466,0],"nice":false,"zero":false}},"y2":{"field":"c"},"fill":{"condition":{"test":"datum.c<datum.o","value":"#000000"},"value":"#aaaaaa"}}}
],
"resolve":{"scale":{"fill":"independent"}}
},
{"data":{"name":"px"},"mark":{"type":"bar","size":1,"orient":"vertical","color":"#8c8cd6"},
 "encoding":{
  "x":{"field":"i","type":"quantitative","scale":{"domain":[-0.6,375.3],"nice":false,"zero":false},"axis":{"orient":"bottom","offset":-81,"labels":false,"ticks":false,"domainColor":"#999999","domainWidth":1.5,"title":null,"grid":false}},
  "y":{"field":"v","type":"quantitative","scale":{"domain":[0,10.1],"range":[558,481],"nice":false,"zero":true},"axis":{"orient":"right","values":[0,2,4,6,8],"labelExpr":"datum.value==0?'0':datum.value+'M'","grid":false,"domainColor":"#555555","tickColor":"#777777","tickSize":3,"labelPadding":44,"labelAlign":"right","labelBaseline":"middle","labelFontSize":11,"labelFontWeight":"bold","labelColor":"#000000","title":"Volume","titleX":-948,"titleY":490,"titleAngle":0,"titleAlign":"left","titleBaseline":"middle","titleColor":"#5b2a8c","titleFontSize":11,"titleFontWeight":"bold"}},
  "y2":{"datum":0}}}
],
"resolve":{"scale":{"y":"independent"},"axis":{"x":"independent","y":"independent"}}
}
